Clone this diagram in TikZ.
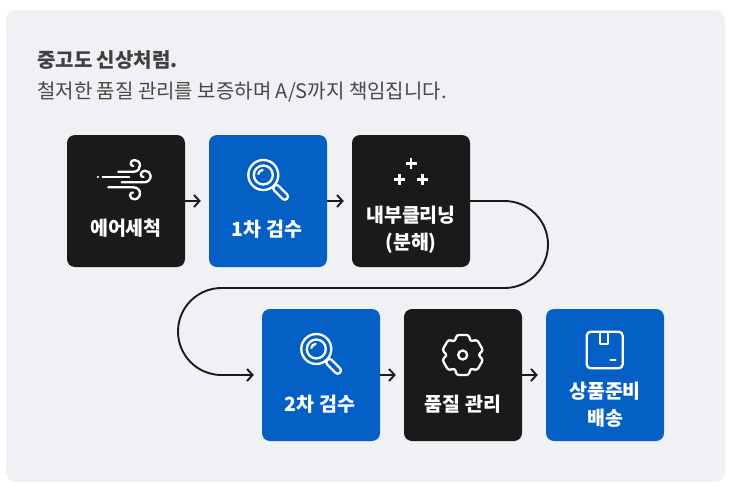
\documentclass[tikz,border=0pt]{standalone}
\usepackage{fontspec}
\setmainfont{Noto Sans CJK KR}
\usetikzlibrary{arrows.meta}
\definecolor{panelgray}{HTML}{F0F1F5}
\definecolor{boxdark}{HTML}{1A1A1A}
\definecolor{boxblue}{HTML}{0560C6}
\tikzset{
  stepdark/.style={fill=boxdark,rounded corners=8,minimum width=118,minimum height=132,inner sep=0},
  stepblue/.style={stepdark,fill=boxblue},
  steptext/.style={text=white,font=\fontsize{19.5}{27}\selectfont\bfseries,align=center,inner sep=0},
  flow/.style={draw=boxdark,line width=1.9,-{Straight Barb[length=5.5,width=12,line width=1.9]}},
  icon/.style={draw=white,line width=2.3,line cap=round,line join=round},
  lens/.pic={
    \draw[icon] (-4.7,-26) circle (15);
    \draw[icon] (-4.7,-26) circle (9.5);
    \draw[icon] (-9.7,-27) .. controls (-9.5,-29) and (-7.5,-31) .. (-5.4,-31);
    \draw[icon,rounded corners=3,shift={(-4.7,-26)},rotate=-45] (15.5,-3.2) rectangle (33.5,3.2);
  },
}
\begin{document}
\begin{tikzpicture}[x=1pt,y=-1pt]
      \useasboundingbox (0,0) rectangle (732,490);
      \fill[panelgray,rounded corners=10] (6,10) rectangle (725,482);
      \node[anchor=base west,inner sep=0,text=black!75,font=\fontsize{20}{24}\selectfont\bfseries] (title) at (37,67.5) {중고도 신상처럼.};
      \node[anchor=base west,inner sep=0,text=black!72,font=\fontsize{20}{24}\selectfont] (sub) at (37,98) {철저한 품질 관리를 보증하며 A/S까지 책임집니다.};
      \draw
        (126,201) node[stepdark] (0){}
        (268,201) node[stepblue] (1){}
        (411,201) node[stepdark] (2){}
        (321,375) node[stepblue] (3){}
        (463,375) node[stepdark] (4){}
        (605,375) node[stepblue] (5){};
      \node[steptext] (t0) at (126,228) {에어세척};
      \node[steptext] (t1) at (267,229) {1차 검수};
      \node[steptext] (t2) at (411,230) {내부클리닝\\(분해)};
      \node[steptext] (t3) at (320,404) {2차 검수};
      \node[steptext] (t4) at (463,404) {품질 관리};
      \node[steptext] (t5) at (605,405) {상품준비\\배송};
      % connectors
      \begin{scope}[shorten >=8]
        \draw[flow] (0) to (1);
        \draw[flow] (1) to (2);
        \draw[flow] (3) to (4);
        \draw[flow] (4) to (5);
        \draw[flow,rounded corners=43.5] (2.east) -- (548,201) -- (548,288) -- (178,288) -- (178,375) -- (3.west);
      \end{scope}
      % icons
      \begin{scope}[shift={(126,201)}]
        \draw[icon] (-7.7,-29.3) -- (8,-29.3) .. controls (12,-29.3) and (14,-32.5) .. (14,-35.5) .. controls (14,-39) and (11.5,-41) .. (8.5,-41) .. controls (6,-41) and (4.7,-39.3) .. (4.7,-37.5) .. controls (4.7,-36) and (6,-35) .. (7.3,-35);
        \draw[icon] (-23.3,-24.3) -- (3.3,-24.3);
        \draw[icon] (-28.2,-24.3) -- (-28,-24.3);
        \draw[icon] (-4.3,-18.7) -- (18,-18.7) .. controls (22,-18.7) and (24.7,-21.5) .. (24.7,-25) .. controls (24.7,-28) and (22,-30.3) .. (19,-30.3) .. controls (16.5,-30.3) and (14.7,-28.5) .. (14.7,-26.5) .. controls (14.7,-25) and (16,-24) .. (17.5,-24);
        \draw[icon] (-17.7,-13.7) -- (7.3,-13.7) .. controls (11.5,-13.7) and (14,-11) .. (14,-7.7) .. controls (14,-4.5) and (11.5,-1.7) .. (8.5,-1.7) .. controls (6,-1.7) and (4,-3.5) .. (4,-5.8) .. controls (4,-7.5) and (5.5,-8.5) .. (7,-8.5);
      \end{scope}
      \pic at (1.center) {lens};
      \pic at (3.center) {lens};
      \begin{scope}[shift={(411,201)}]
        \foreach \px/\py in {0/-37.3,-11.3/-21.3,11.3/-21.3}
          \draw[icon,line width=2.8,line cap=butt] (\px-5.5,\py) -- (\px+5.5,\py) (\px,\py-5.5) -- (\px,\py+5.5);
      \end{scope}
      \begin{scope}[shift={(462.7,355)}]
        \draw[icon,rounded corners=2.5]
          (73:21) -- (107:21) -- (120:15.5) -- (133:21) -- (167:21) -- (180:15.5)
          -- (193:21) -- (227:21) -- (240:15.5) -- (253:21) -- (287:21) -- (300:15.5)
          -- (313:21) -- (347:21) -- (0:15.5) -- (13:21) -- (47:21) -- (60:15.5) -- cycle;
        \draw[icon] (0,0) circle (4.5);
      \end{scope}
      \begin{scope}[shift={(605,375)}]
        \draw[icon,rounded corners=4] (-18.3,-43.3) rectangle (17.7,-6.7);
        \draw[icon] (-5,-43.3) -- (-5,-30.7) -- (3.3,-30.7) -- (3.3,-43.3);
        \draw[icon] (5.5,-14.7) -- (10.5,-14.7);
      \end{scope}
    \end{tikzpicture}
\end{document}
